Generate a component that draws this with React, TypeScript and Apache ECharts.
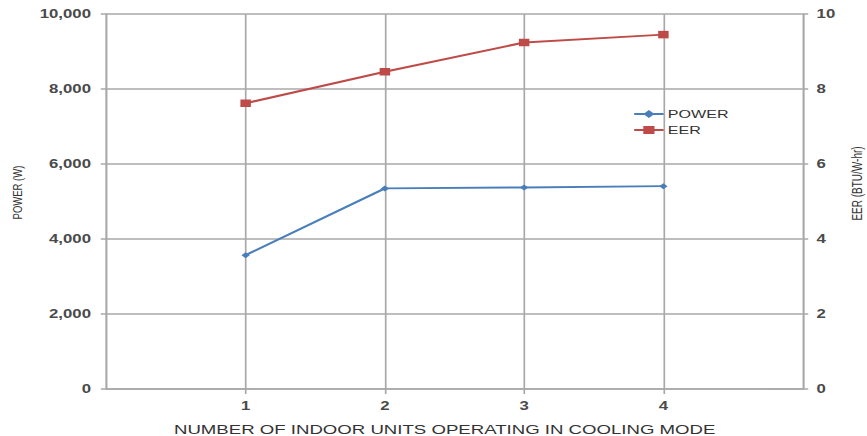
import React, { useEffect, useRef } from "react";
import * as echarts from "echarts";

// Number of indoor units running in cooling mode
const units = [1, 2, 3, 4];
// Total power draw (W)
const powerW = [3570, 5350, 5375, 5410];
// Energy efficiency ratio (BTU/W-hr)
const eer = [7.62, 8.46, 9.24, 9.45];

const xTicks = [1, 2, 3, 4];

// The chart is drawn narrow and widened horizontally as a whole.
const STRETCH = 1.4;
const PAGE_W = 867;
const PAGE_H = 436;
const CHART_W = PAGE_W / STRETCH;

const FONT = "'Liberation Sans', Arial, sans-serif";
const GRID = "#a8a8a8";
const LABEL = "#4a4a4a";
const BLUE = "#4a7ebb";
const RED = "#be4b48";

export default function App() {
  const ref = useRef<HTMLDivElement>(null);

  useEffect(() => {
    if (!ref.current) return;
    const chart = echarts.init(ref.current, undefined, { renderer: "svg" });
    chart.setOption({
      animation: false,
      backgroundColor: "#ffffff",
      textStyle: { fontFamily: FONT },
      grid: {
        left: 76,
        right: 45.7,
        top: 14,
        bottom: 47,
        containLabel: false,
        outerBoundsMode: "none",
      },
      legend: {
        orient: "vertical",
        left: 447,
        top: 103,
        itemGap: 4,
        itemWidth: 21,
        itemHeight: 10,
        textStyle: { fontFamily: FONT, fontSize: 11.5, color: "#333", padding: [0, 0, 0, -2] },
        data: ["POWER", "EER"],
      },
      xAxis: {
        type: "value",
        min: 0,
        max: 5,
        interval: 1,
        name: "NUMBER OF INDOOR UNITS OPERATING IN COOLING MODE",
        nameLocation: "middle",
        nameGap: 34,
        nameTextStyle: { fontFamily: FONT, fontSize: 13.3, color: "#333", padding: [0, 14, 0, 0] },
        axisLine: { show: true, lineStyle: { color: GRID, width: 1.5 } },
        axisTick: { show: true, length: 5, customValues: xTicks, lineStyle: { color: GRID, width: 1.2 } },
        axisLabel: {
          customValues: xTicks,
          margin: 11,
          fontFamily: FONT,
          fontSize: 12,
          fontWeight: "bold",
          color: LABEL,
        },
        splitLine: { show: true, lineStyle: { color: GRID, width: 1.2 } },
      },
      yAxis: [
        {
          type: "value",
          min: 0,
          max: 10000,
          interval: 2000,
          name: "POWER (W)",
          nameLocation: "middle",
          nameRotate: 90,
          nameGap: 58,
          nameTextStyle: { fontFamily: FONT, fontSize: 9.5, color: "#333", padding: [0, 0, 0, 18] },
          axisLine: { show: true, lineStyle: { color: GRID, width: 1.5 } },
          axisTick: { show: true, length: 4, lineStyle: { color: GRID, width: 1.5 } },
          axisLabel: {
            margin: 11,
            fontFamily: FONT,
            fontSize: 12,
            fontWeight: "bold",
            color: LABEL,
            formatter: (v: number) => v.toLocaleString("en-US"),
          },
          splitLine: { show: true, lineStyle: { color: GRID, width: 1.5 } },
        },
        {
          type: "value",
          min: 0,
          max: 10,
          interval: 2,
          position: "right",
          name: "EER (BTU/W-hr)",
          nameLocation: "middle",
          nameRotate: 90,
          nameGap: 32,
          nameTextStyle: { fontFamily: FONT, fontSize: 10, color: "#333", padding: [0, 0, 0, 36] },
          axisLine: { show: true, lineStyle: { color: GRID, width: 1.5 } },
          axisTick: { show: true, length: 4, lineStyle: { color: GRID, width: 1.5 } },
          axisLabel: {
            margin: 10,
            fontFamily: FONT,
            fontSize: 12,
            fontWeight: "bold",
            color: LABEL,
          },
          splitLine: { show: false },
        },
      ],
      series: [
        {
          name: "POWER",
          type: "line",
          yAxisIndex: 0,
          data: units.map((u, i) => [u, powerW[i]]),
          symbol: "diamond",
          symbolSize: 6,
          lineStyle: { color: BLUE, width: 2 },
          itemStyle: { color: BLUE },
        },
        {
          name: "EER",
          type: "line",
          yAxisIndex: 1,
          data: units.map((u, i) => [u, eer[i]]),
          symbol: "rect",
          symbolSize: 7.5,
          lineStyle: { color: RED, width: 2 },
          itemStyle: { color: RED },
        },
      ],
    });
    return () => chart.dispose();
  }, []);

  return (
    <div
      style={{
        position: "fixed",
        left: 0,
        top: 0,
        width: PAGE_W,
        height: PAGE_H,
        overflow: "hidden",
        background: "#ffffff",
      }}
    >
      <div
        ref={ref}
        style={{
          width: CHART_W,
          height: PAGE_H,
          transform: `scaleX(${STRETCH})`,
          transformOrigin: "0 0",
        }}
      />
    </div>
  );
}
